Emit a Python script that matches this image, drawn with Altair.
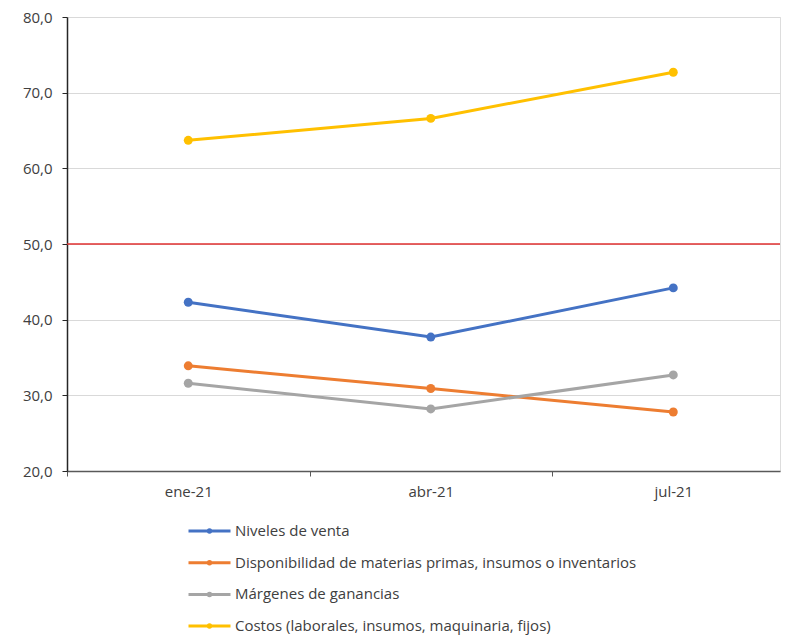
import json
import altair as alt
import pandas as pd

categories = ["ene-21", "abr-21", "jul-21"]
series_names = [
    "Niveles de venta",
    "Disponibilidad de materias primas, insumos o inventarios",
    "Márgenes de ganancias",
    "Costos (laborales, insumos, maquinaria, fijos)",
]
niveles = [42.3, 37.7, 44.2]
disponibilidad = [33.9, 30.9, 27.8]
margenes = [31.6, 28.2, 32.7]
costos = [63.7, 66.6, 72.7]
series_colors = ["#4472C4", "#ED7D31", "#A5A5A5", "#FFC000"]
y_ticks = [20, 30, 40, 50, 60, 70, 80]
threshold = [50]

all_values = [niveles, disponibilidad, margenes, costos]
rows = []
for name, vals in zip(series_names, all_values):
    for i, (cat, v) in enumerate(zip(categories, vals)):
        rows.append({"idx": i, "periodo": cat, "serie": name, "valor": v})
df = pd.DataFrame(rows)

FONT = "Open Sans"
TXT = "#404040"
FS = 15

x_tick_values = []
for i in range(len(categories)):
    x_tick_values += [i - 0.5, i]
label_expr = (
    "datum.value % 1 === 0 ? " + json.dumps(categories) + "[datum.value] : ''"
)

x_enc = alt.X(
    "idx:Q",
    scale=alt.Scale(domain=[-0.5, 2.44], nice=False, zero=False),
    axis=alt.Axis(
        title=None,
        values=x_tick_values,
        labelExpr=label_expr,
        grid=False,
        domainColor="#595959",
        domainWidth=1.5,
        tickColor="#595959",
        tickSize=5,
        tickOpacity={"condition": {"test": "datum.value % 1 !== 0", "value": 1}, "value": 0},
        labelPadding=8,
        labelFont=FONT,
        labelFontSize=FS,
        labelColor=TXT,
        labelFlush=False,
        labelOverlap=False,
    ),
)

y_enc = alt.Y(
    "valor:Q",
    scale=alt.Scale(domain=[20, 80], nice=False, zero=False),
    axis=alt.Axis(
        title=None,
        values=y_ticks,
        labelExpr="replace(format(datum.value, '.1f'), '.', ',')",
        gridColor="#d9d9d9",
        gridWidth=1,
        domainColor="#262626",
        domainWidth=1.5,
        tickColor="#262626",
        tickSize=5,
        labelPadding=10,
        labelFont=FONT,
        labelFontSize=FS,
        labelColor=TXT,
    ),
)

color_enc = alt.Color(
    "serie:N",
    scale=alt.Scale(domain=series_names, range=series_colors),
    sort=series_names,
    legend=alt.Legend(
        title=None,
        orient="none",
        legendX=120,
        legendY=502,
        direction="vertical",
        padding=0,
        symbolType="M-1,0H3M1.12,0A0.12,0.12 0 1 1 0.88,0A0.12,0.12 0 1 1 1.12,0Z",
        symbolSize=441,
        symbolStrokeWidth=3,
        labelOffset=24,
        rowPadding=11.7,
        labelFont=FONT,
        labelFontSize=FS,
        labelColor=TXT,
        labelLimit=650,
    ),
)

lines = alt.Chart(df).mark_line(strokeWidth=3).encode(
    x=x_enc, y=y_enc, color=color_enc, order="idx:Q"
)
points = alt.Chart(df).mark_circle(size=80, opacity=1).encode(
    x=alt.X("idx:Q"), y=alt.Y("valor:Q"), color=alt.Color("serie:N")
)

rule = (
    alt.Chart(pd.DataFrame({"y": threshold}))
    .mark_rule(color="#e03030", strokeWidth=1.5)
    .encode(y="y:Q")
)

chart = (
    alt.layer(lines, rule, points)
    .properties(
        width=713,
        height=454,
        padding={"left": 14, "top": 2, "right": 0, "bottom": 0},
    )
    .configure_view(stroke=None)
    .configure(font=FONT)
)

chart.save("out.html", embed_options={"renderer": "svg", "actions": False})
